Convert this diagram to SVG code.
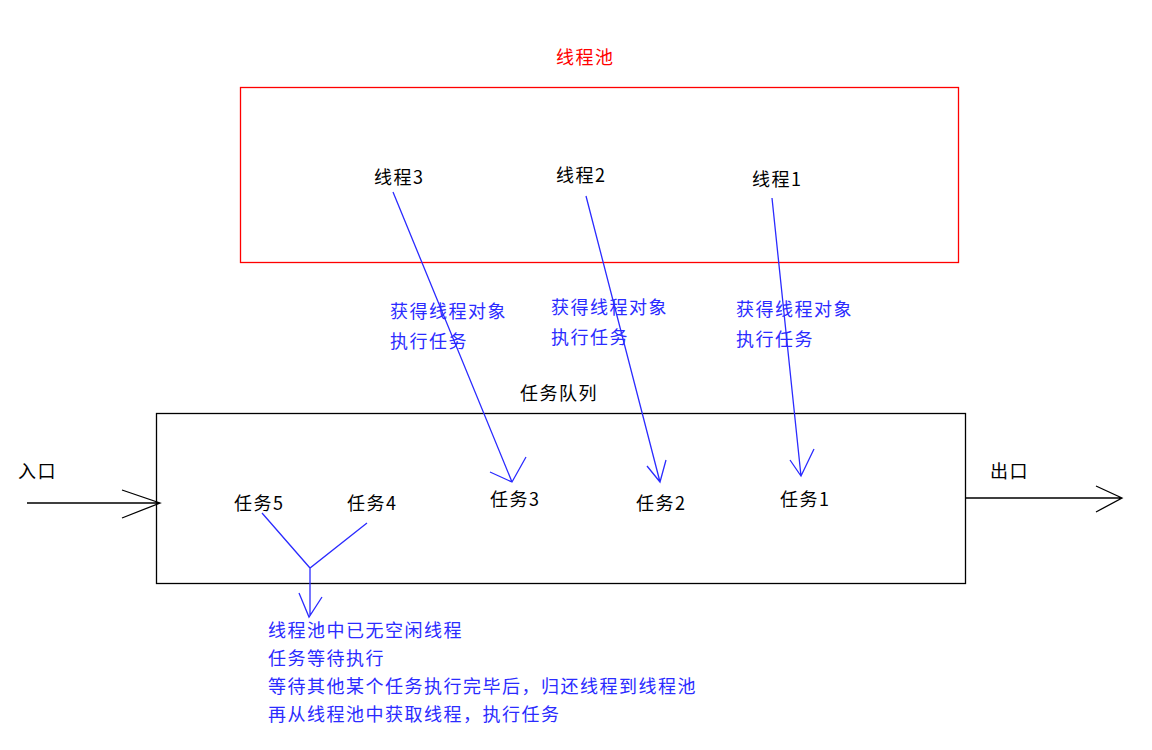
<svg xmlns="http://www.w3.org/2000/svg" width="1152" height="750" viewBox="0 0 1152 750">
<style>
text{font-family:"Noto Sans CJK SC","Liberation Sans",sans-serif;font-size:18px;letter-spacing:1.5px;fill:#000}
.b{fill:#2b2bff}
.r{fill:#ff0000}
.bl{stroke:#2b2bff;stroke-width:1.3;fill:none}
.k{stroke:#000;stroke-width:1.3;fill:none}
</style>
<rect width="1152" height="750" fill="#fff"/>
<g id="pool">
<rect x="240.5" y="87.5" width="718" height="175" fill="none" stroke="#ff0000" stroke-width="1.3"/>
<text class="r" x="556" y="64">线程池</text>
</g>
<g id="t3"><text x="374" y="184">线程3</text></g>
<g id="t2"><text x="556" y="182">线程2</text></g>
<g id="t1"><text x="752" y="186">线程1</text></g>
<g id="queue">
<rect x="156.5" y="413.5" width="809" height="170" fill="none" stroke="#000" stroke-width="1.3"/>
<text x="520" y="400">任务队列</text>
</g>
<g id="q5"><text x="234" y="510">任务5</text></g>
<g id="q4"><text x="347" y="510">任务4</text></g>
<g id="q3"><text x="490" y="506">任务3</text></g>
<g id="q2"><text x="636" y="510">任务2</text></g>
<g id="q1"><text x="780" y="506">任务1</text></g>
<g id="labels">
<text x="18" y="478">入口</text>
<text x="990" y="478">出口</text>
<text class="b" x="390" y="318">获得线程对象</text>
<text class="b" x="390" y="348">执行任务</text>
<text class="b" x="551" y="314">获得线程对象</text>
<text class="b" x="551" y="344">执行任务</text>
<text class="b" x="736" y="316">获得线程对象</text>
<text class="b" x="736" y="346">执行任务</text>
<text class="b" x="268" y="637">线程池中已无空闲线程</text>
<text class="b" x="268" y="665">任务等待执行</text>
<text class="b" x="268" y="693">等待其他某个任务执行完毕后，归还线程到线程池</text>
<text class="b" x="268" y="721">再从线程池中获取线程，执行任务</text>
</g>
<g id="connectors">
<path class="bl" d="M393 192L512 482M490 472L512 482L526 457"/>
<path class="bl" d="M586 196L660 482M647 466L660 482L666 460"/>
<path class="bl" d="M772 198L801 476M790 460L801 476L814 449"/>
<path class="bl" d="M262 513L310 568L367 523M310 568L310 616M299 593L309 617L322 597"/>
<path class="k" d="M27 503L160 503M122 490L160 503L122 518"/>
<path class="k" d="M966 498L1122 498M1096 486L1122 498L1096 512"/>
</g>
</svg>
